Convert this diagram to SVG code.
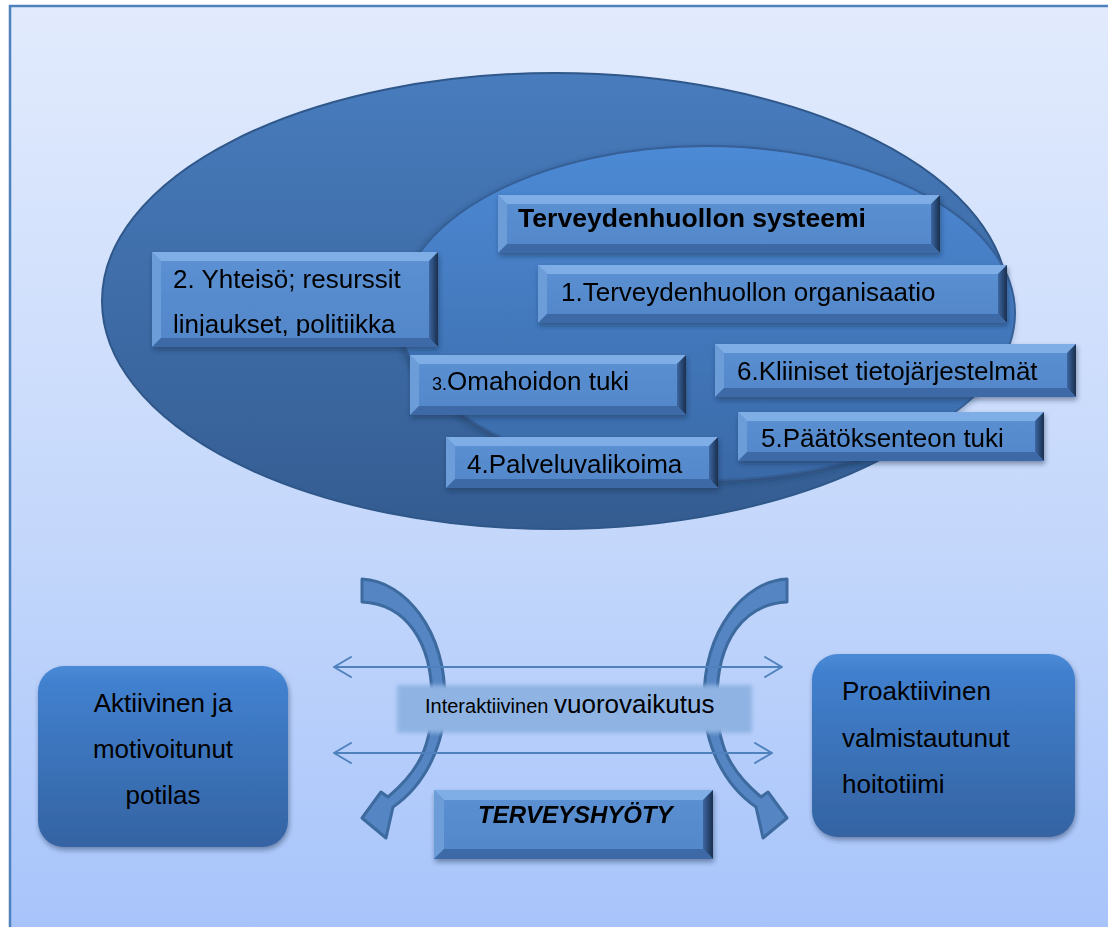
<svg xmlns="http://www.w3.org/2000/svg" width="1108" height="927" viewBox="0 0 1108 927">
<defs>
<linearGradient id="bg" x1="0" y1="0" x2="0" y2="1">
<stop offset="0" stop-color="#E2EBFD"/>
<stop offset="0.6" stop-color="#C2D6FB"/>
<stop offset="1" stop-color="#A6C3FA"/>
</linearGradient>
<linearGradient id="ell1" x1="0" y1="0" x2="0" y2="1">
<stop offset="0" stop-color="#487CBD"/>
<stop offset="1" stop-color="#345C91"/>
</linearGradient>
<linearGradient id="ell2" x1="0" y1="0" x2="0" y2="1">
<stop offset="0" stop-color="#4D8AD5"/>
<stop offset="1" stop-color="#3A69A7"/>
</linearGradient>
<linearGradient id="gR" x1="0" y1="0" x2="1" y2="0">
<stop offset="0" stop-color="#3C67A2"/>
<stop offset="1" stop-color="#1A2E4C"/>
</linearGradient>
<linearGradient id="gF" x1="0" y1="0" x2="0" y2="1">
<stop offset="0" stop-color="#5C91D3"/>
<stop offset="1" stop-color="#5186C8"/>
</linearGradient>
<linearGradient id="rb" x1="0" y1="0" x2="0" y2="1">
<stop offset="0" stop-color="#4A8AD7"/>
<stop offset="0.1" stop-color="#4180CE"/>
<stop offset="1" stop-color="#3463A2"/>
</linearGradient>
<filter id="sh" x="-10%" y="-10%" width="125%" height="135%">
<feDropShadow dx="1" dy="3" stdDeviation="2.5" flood-color="#1B2F4C" flood-opacity="0.45"/>
</filter>
<filter id="esh" x="-10%" y="-10%" width="120%" height="125%">
<feDropShadow dx="-2" dy="3" stdDeviation="3" flood-color="#1B2F4C" flood-opacity="0.4"/>
</filter>
<filter id="blur" x="-10%" y="-30%" width="120%" height="160%">
<feGaussianBlur stdDeviation="2"/>
</filter>
<clipPath id="c2"><rect x="152" y="252" width="286" height="84"/></clipPath>
<style>
text{font-family:"Liberation Sans",Arial,sans-serif;fill:#000}
.t{font-size:26px}
.tb{font-size:26px;font-weight:bold}
.bf{fill:url(#gF)}
.bt{fill:#7FADE5}
.bl{fill:#6D9DD9}
.br{fill:url(#gR)}
.bb{fill:#3E6BA6}
.hl{fill:none;stroke:#4F81BD;stroke-width:2}
.hd{fill:none;stroke:#4F81BD;stroke-width:2;stroke-linecap:round;stroke-linejoin:round}
.ca{fill:#5585C2;stroke:#3D6A9F;stroke-width:3;stroke-linejoin:round}
.rbx{fill:url(#rb);filter:url(#sh)}
</style>
</defs>

<rect x="0" y="0" width="1108" height="927" fill="#FFFFFF"/>
<rect id="frame" x="10" y="6" width="1110" height="940" fill="url(#bg)" stroke="#4F81BD" stroke-width="2.5"/>

<g id="ellipse-outer">
<ellipse cx="555" cy="301" rx="453" ry="228" fill="url(#ell1)" stroke="#2F5789" stroke-width="2"/>
</g>
<g id="ellipse-inner">
<ellipse cx="707" cy="313" rx="308" ry="167" fill="url(#ell2)" stroke="#355F96" stroke-width="2" filter="url(#esh)"/>
</g>

<g id="title" filter="url(#sh)">
<rect x="498" y="195" width="442" height="58" class="bf"/>
<polygon class="bt" points="498,195 940,195 931,204 507,204"/>
<polygon class="bl" points="498,195 507,204 507,244 498,253"/>
<polygon class="br" points="940,195 940,253 931,244 931,204"/>
<polygon class="bb" points="498,253 940,253 931,244 507,244"/>
<text x="518" y="227" class="tb" textLength="348" lengthAdjust="spacingAndGlyphs">Terveydenhuollon systeemi</text>
</g>

<g id="box1" filter="url(#sh)">
<rect x="538" y="265" width="469" height="58" class="bf"/>
<polygon class="bt" points="538,265 1007,265 998,274 547,274"/>
<polygon class="bl" points="538,265 547,274 547,314 538,323"/>
<polygon class="br" points="1007,265 1007,323 998,314 998,274"/>
<polygon class="bb" points="538,323 1007,323 998,314 547,314"/>
<text x="561" y="301" class="t">1.Terveydenhuollon organisaatio</text>
</g>

<g id="box2" filter="url(#sh)">
<rect x="152" y="252" width="286" height="95" class="bf"/>
<polygon class="bt" points="152,252 438,252 429,261 161,261"/>
<polygon class="bl" points="152,252 161,261 161,338 152,347"/>
<polygon class="br" points="438,252 438,347 429,338 429,261"/>
<polygon class="bb" points="152,347 438,347 429,338 161,338"/>
<g clip-path="url(#c2)">
<text x="173" y="288" class="t">2. Yhteisö; resurssit</text>
<text x="173" y="333" class="t">linjaukset, politiikka</text>
</g>
</g>

<g id="box6" filter="url(#sh)">
<rect x="715" y="344" width="361" height="53" class="bf"/>
<polygon class="bt" points="715,344 1076,344 1067,353 724,353"/>
<polygon class="bl" points="715,344 724,353 724,388 715,397"/>
<polygon class="br" points="1076,344 1076,397 1067,388 1067,353"/>
<polygon class="bb" points="715,397 1076,397 1067,388 724,388"/>
<text x="737" y="380" class="t">6.Kliiniset tietojärjestelmät</text>
</g>

<g id="box3" filter="url(#sh)">
<rect x="410" y="355" width="276" height="60" class="bf"/>
<polygon class="bt" points="410,355 686,355 677,364 419,364"/>
<polygon class="bl" points="410,355 419,364 419,406 410,415"/>
<polygon class="br" points="686,355 686,415 677,406 677,364"/>
<polygon class="bb" points="410,415 686,415 677,406 419,406"/>
<text x="432" y="390" class="t"><tspan font-size="18">3.</tspan>Omahoidon tuki</text>
</g>

<g id="box5" filter="url(#sh)">
<rect x="738" y="412" width="306" height="49" class="bf"/>
<polygon class="bt" points="738,412 1044,412 1035,421 747,421"/>
<polygon class="bl" points="738,412 747,421 747,452 738,461"/>
<polygon class="br" points="1044,412 1044,461 1035,452 1035,421"/>
<polygon class="bb" points="738,461 1044,461 1035,452 747,452"/>
<text x="761" y="447" class="t">5.Päätöksenteon tuki</text>
</g>

<g id="box4" filter="url(#sh)">
<rect x="446" y="437" width="272" height="51" class="bf"/>
<polygon class="bt" points="446,437 718,437 709,446 455,446"/>
<polygon class="bl" points="446,437 455,446 455,479 446,488"/>
<polygon class="br" points="718,437 718,488 709,479 709,446"/>
<polygon class="bb" points="446,488 718,488 709,479 455,479"/>
<text x="467" y="473" class="t">4.Palveluvalikoima</text>
</g>

<g id="connectors">
<path class="ca" d="M362,579 C405,581 445,630 445,700 C445,745 425,785 393,807 L386,838 L362,818 L381,792 L388,797 C420,770 432,745 432,700 C432,640 405,604 362,602 Z"/>
<path class="ca" transform="matrix(-1 0 0 1 1149 0)" d="M362,579 C405,581 445,630 445,700 C445,745 425,785 393,807 L386,838 L362,818 L381,792 L388,797 C420,770 432,745 432,700 C432,640 405,604 362,602 Z"/>
</g>

<g id="label">
<rect x="397" y="685" width="355" height="48" fill="#8FB4E3" filter="url(#blur)"/>
<text x="425" y="713"><tspan font-size="20">Interaktiivinen </tspan><tspan font-size="26">vuorovaikutus</tspan></text>
</g>

<g id="arrows">
<line class="hl" x1="334" y1="667" x2="782" y2="667"/>
<polyline class="hd" points="351,657 334,667 351,677"/>
<polyline class="hd" points="765,657 782,667 765,677"/>
<line class="hl" x1="334" y1="753" x2="772" y2="753"/>
<polyline class="hd" points="351,743 334,753 351,763"/>
<polyline class="hd" points="755,743 772,753 755,763"/>
</g>

<g id="terveyshyoty" filter="url(#sh)">
<rect x="434" y="790" width="279" height="69" class="bf"/>
<polygon class="bt" points="434,790 713,790 703,800 444,800"/>
<polygon class="bl" points="434,790 444,800 444,849 434,859"/>
<polygon class="br" points="713,790 713,859 703,849 703,800"/>
<polygon class="bb" points="434,859 713,859 703,849 444,849"/>
<text x="478" y="823" font-size="24" font-weight="bold" font-style="italic">TERVEYSHYÖTY</text>
</g>

<g id="potilas">
<rect x="38" y="666" width="250" height="181" rx="26" class="rbx"/>
<text x="163" y="712" class="t" text-anchor="middle">Aktiivinen ja</text>
<text x="163" y="758" class="t" text-anchor="middle">motivoitunut</text>
<text x="163" y="804" class="t" text-anchor="middle">potilas</text>
</g>

<g id="hoitotiimi">
<rect x="812" y="654" width="263" height="183" rx="26" class="rbx"/>
<text x="842" y="700" class="t">Proaktiivinen</text>
<text x="842" y="747" class="t">valmistautunut</text>
<text x="842" y="793" class="t">hoitotiimi</text>
</g>
</svg>
